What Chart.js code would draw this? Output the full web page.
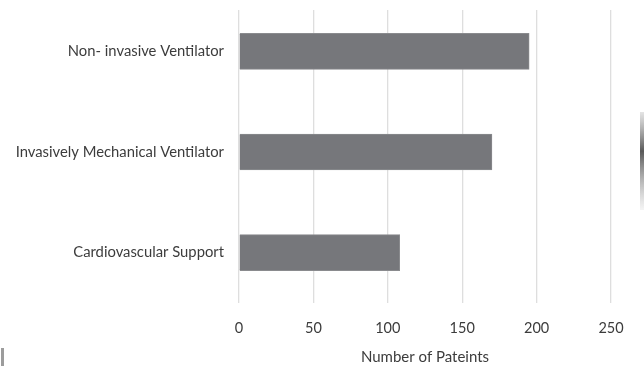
<!DOCTYPE html>
<html>
<head>
<meta charset="utf-8">
<script src="https://cdn.jsdelivr.net/npm/chart.js@4.4.0/dist/chart.umd.min.js"></script>
<style>
    html, body { margin: 0; padding: 0; background: #fff; }
    #wrap { width: 644px; height: 378px; }
</style>
</head>
<body>
<div id="wrap"><canvas id="supportChart"></canvas></div>
<script>
// --- Data ---
const supportTypes = ["Non- invasive Ventilator", "Invasively Mechanical Ventilator", "Cardiovascular Support"];
const patientCounts = [195, 170, 108];
const xTicks = [0, 50, 100, 150, 200, 250];

const textColor = "#3c3c3c";
const fontFamily = "Lato, 'Open Sans', sans-serif";

// blank out the gridlines above the first few pixels of the plot
const gridTopTrim = {
    id: "gridTopTrim",
    beforeDatasetsDraw(chart) {
        const { ctx, chartArea } = chart;
        ctx.save();
        ctx.fillStyle = "#fff";
        ctx.fillRect(chartArea.left - 2, 0, chartArea.right - chartArea.left + 4, 10);
        ctx.restore();
    },
    afterDraw(chart) {
        // faint edges of neighbouring figures at the borders
        const { ctx } = chart;
        ctx.save();
        let g = ctx.createLinearGradient(0, 112, 0, 210);
        g.addColorStop(0, "rgba(120,120,120,0.2)");
        g.addColorStop(0.4, "rgba(70,70,70,0.9)");
        g.addColorStop(1, "rgba(150,150,150,0.1)");
        ctx.fillStyle = g;
        ctx.fillRect(640, 112, 4, 98);
        ctx.fillStyle = "rgba(90,90,90,0.6)";
        ctx.fillRect(1, 348, 3, 18);
        ctx.restore();
    }
};

new Chart(document.getElementById("supportChart"), {
    type: "bar",
    data: {
        labels: supportTypes,
        datasets: [{
            data: patientCounts,
            backgroundColor: "#76777b",
            borderColor: "#8a8b8e",
            borderWidth: 1,
            barThickness: 36,
        }]
    },
    options: {
        indexAxis: "y",
        responsive: true,
        maintainAspectRatio: false,
        animation: false,
        layout: { padding: { top: 1, right: 33, left: 0, bottom: 0 } },
        plugins: {
            legend: { display: false },
            tooltip: { enabled: false },
        },
        scales: {
            x: {
                min: 0,
                max: 250,
                border: { display: false },
                grid: { color: "#dedede", lineWidth: 1.3, drawTicks: false },
                afterBuildTicks: (scale) => {
                    scale.ticks = xTicks.map((v) => ({ value: v }));
                },
                afterFit: (scale) => { scale.height = 75; },
                ticks: {
                    padding: 17,
                    color: textColor,
                    font: { family: fontFamily, size: 14.5 },
                },
                title: {
                    display: true,
                    text: "Number of Pateints",
                    color: textColor,
                    padding: { top: 0, bottom: 12 },
                    font: { family: fontFamily, size: 15 },
                },
            },
            y: {
                border: { display: false },
                grid: { display: false, drawTicks: false },
                afterFit: (scale) => {
                    scale.width = 239;
                    scale.paddingTop = 0;
                    scale.paddingBottom = 0;
                },
                ticks: {
                    padding: 15,
                    color: textColor,
                    font: { family: fontFamily, size: 14.8 },
                },
            },
        },
    },
    plugins: [gridTopTrim],
});
</script>
</body>
</html>
